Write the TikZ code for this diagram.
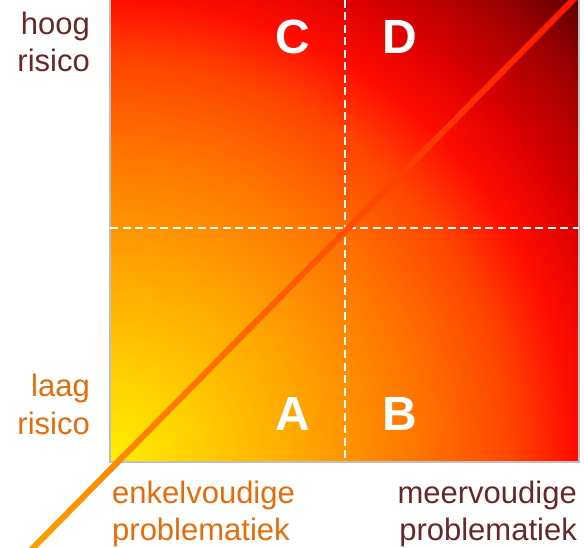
\documentclass[tikz,border=0pt]{standalone}
\usepackage{fontspec}
\setmainfont{Liberation Sans}
\usetikzlibrary{calc}
\pgfdeclareradialshading{riskshade}{\pgfpointorigin}{rgb(0bp)=(1,0.94,0); rgb(3.4bp)=(1,0.81,0); rgb(7.1bp)=(1,0.66,0); rgb(11.9bp)=(1,0.45,0); rgb(15.2bp)=(1,0.27,0); rgb(17.55bp)=(1,0.05,0); rgb(19.9bp)=(0.85,0,0); rgb(22.75bp)=(0.62,0,0); rgb(25bp)=(0.36,0,0); rgb(50bp)=(0.36,0,0)}
\definecolor{darktxt}{RGB}{105,40,40}
\definecolor{orangetxt}{RGB}{228,108,10}
\definecolor{lineorange}{RGB}{255,160,0}
\definecolor{linemid}{RGB}{255,96,0}
\definecolor{linered}{RGB}{255,18,0}
\begin{document}
\begin{tikzpicture}[x=1pt,y=1pt,
  lbl/.style={font=\fontsize{31}{37}\selectfont, inner sep=0pt},
  letter/.style={font=\fontsize{48}{50}\selectfont\bfseries, text=white, inner sep=0pt, anchor=base},
  gridline/.style={white, line width=2pt, dash pattern=on 8pt off 4.5pt},
  frameline/.style={draw=gray!50, line width=1.5pt}]
\useasboundingbox (0,0) rectangle (584,547);
\clip (0,0) rectangle (584,547);
\coordinate (sw) at (110,85);
\coordinate (ne) at (579,547);
\begin{scope}
  \clip (sw) rectangle (ne);
  \shade[shading=riskshade] (sw) circle (660);
\end{scope}
\draw[frameline] (110,550) -- (sw) -- (579,85) -- (579,550);
\coordinate (vt) at (345,547);
\coordinate (vb) at (345,85);
\coordinate (hl) at (110,319);
\coordinate (hr) at (579,319);
\draw[gridline] (vt) -- (vb);
\draw[gridline] (hl) -- (hr);
\coordinate (ls) at (24.15,-10);
\coordinate (le) at (582.85,557);
\shade[left color=lineorange, middle color=linemid, right color=linered]
  ($(ls)!3pt!90:(le)$) -- ($(ls)!3pt!-90:(le)$) -- ($(le)!3pt!90:(ls)$) -- ($(le)!3pt!-90:(ls)$) -- cycle;
\node[letter] (C) at (293,493) {C};
\node[letter] (D) at (400,493) {D};
\node[letter] (A) at (293,117) {A};
\node[letter] (B) at (400,117) {B};
\node[lbl, text=darktxt, anchor=base east] (hoog) at (90,512) {hoog};
\node[lbl, text=darktxt, anchor=base east] (hoogr) at (90,475) {risico};
\node[lbl, text=orangetxt, anchor=base east] (laag) at (90,150) {laag};
\node[lbl, text=orangetxt, anchor=base east] (laagr) at (90,113) {risico};
\node[lbl, text=orangetxt, anchor=base west] (enk) at (112,44) {enkelvoudige};
\node[lbl, text=orangetxt, anchor=base west] (enkp) at (112,7) {problematiek};
\node[lbl, text=darktxt, anchor=base east] (meer) at (577,44) {meervoudige};
\node[lbl, text=darktxt, anchor=base east] (meerp) at (577,7) {problematiek};
\end{tikzpicture}
\end{document}
